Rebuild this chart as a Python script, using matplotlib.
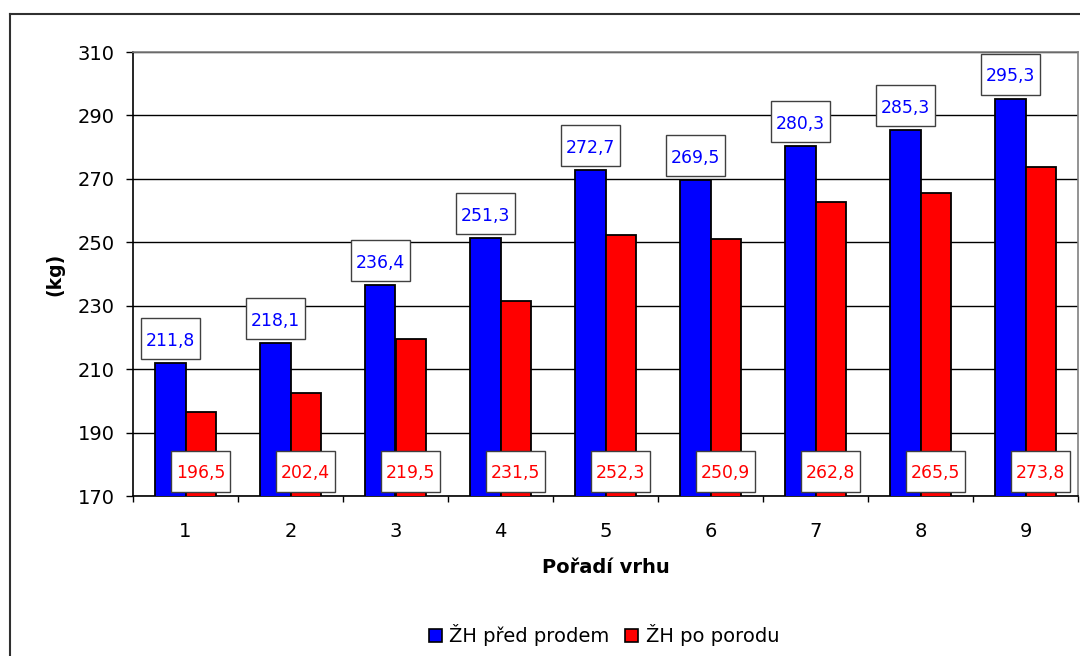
import matplotlib
matplotlib.use("Agg")
import matplotlib.pyplot as plt
from matplotlib.patches import Rectangle
from matplotlib.lines import Line2D
from matplotlib.transforms import Affine2D, ScaledTranslation, blended_transform_factory
import numpy as np

plt.rcParams['font.family'] = ['DejaVu Sans']

categories = ['1', '2', '3', '4', '5', '6', '7', '8', '9']
pred_prodem = [211.8, 218.1, 236.4, 251.3, 272.7, 269.5, 280.3, 285.3, 295.3]
po_porodu = [196.5, 202.4, 219.5, 231.5, 252.3, 250.9, 262.8, 265.5, 273.8]
series_names = ['ŽH před prodem', 'ŽH po porodu']
yticks = [170, 190, 210, 230, 250, 270, 290, 310]

BLUE = '#0000FF'
RED = '#FF0000'

W, H = 1080, 656
fig = plt.figure(figsize=(W / 100, H / 100), dpi=100)
fig.patch.set_facecolor('white')

ax = fig.add_axes([133 / W, 1 - 496 / H, (1078 - 133) / W, (496 - 52) / H])

x = np.arange(len(categories))
bw = 0.29
ax.bar(x - bw / 2, pred_prodem, bw, color=BLUE, edgecolor='black', linewidth=1.3, zorder=3,
       label=series_names[0])
ax.bar(x + bw / 2, po_porodu, bw, color=RED, edgecolor='black', linewidth=1.3, zorder=3,
       label=series_names[1])

ax.set_xlim(-0.5, len(categories) - 0.5)
ax.set_ylim(170, 310)
ax.set_yticks(yticks)
ax.set_yticklabels([str(v) for v in yticks], fontsize=14)
ax.set_xticks(x)
ax.set_xticklabels(categories, fontsize=14)
ax.set_xticks(np.arange(len(categories) + 1) - 0.5, minor=True)
ax.tick_params(axis='x', which='major', length=0, pad=19)
ax.tick_params(axis='x', which='minor', length=4, direction='out', width=1)
ax.tick_params(axis='y', length=5, width=1, pad=8)
ax.yaxis.grid(True, color='black', linewidth=1, zorder=0)
ax.set_axisbelow(True)
for s in ['top', 'right']:
    ax.spines[s].set_color('#808080')
    ax.spines[s].set_linewidth(1.2)
for s in ['left', 'bottom']:
    ax.spines[s].set_color('black')
    ax.spines[s].set_linewidth(1.2)

ax.set_xlabel('Pořadí vrhu', fontsize=14, fontweight='bold', labelpad=12)
ax.set_ylabel('(kg)', fontsize=13.5, fontweight='bold', labelpad=10)

px = fig.dpi / 100.0
box_w, box_h = 59 * px, 41 * px


def boxed_label(xv, yv, text, color, transform, dy_px):
    tr = (Affine2D().scale(box_w, box_h).translate(-box_w / 2, -box_h / 2 + dy_px)
          + ScaledTranslation(xv, yv, transform))
    ax.add_patch(Rectangle((0, 0), 1, 1, transform=tr, facecolor='white',
                           edgecolor='#404040', linewidth=1.0, zorder=5, clip_on=False))
    ttr = Affine2D().translate(0, dy_px) + ScaledTranslation(xv, yv, transform)
    ax.text(0, 0, text, transform=ttr, ha='center', va='center_baseline', color=color,
            fontsize=12.4, zorder=6, clip_on=False)


bt = blended_transform_factory(ax.transData, ax.transAxes)
for i in range(len(categories)):
    boxed_label(x[i] - bw / 2, pred_prodem[i], f'{pred_prodem[i]:.1f}'.replace('.', ','), BLUE,
                ax.transData, 24.5 * px)
    boxed_label(x[i] + bw / 2, 0.056, f'{po_porodu[i]:.1f}'.replace('.', ','), RED, bt, 0)

handles = [Rectangle((0, 0), 1, 1, facecolor=BLUE, edgecolor='black', linewidth=1.2),
           Rectangle((0, 0), 1, 1, facecolor=RED, edgecolor='black', linewidth=1.2)]
fig.legend(handles, series_names, loc='center', bbox_to_anchor=(604 / W, 1 - 635 / H), ncol=2,
           frameon=False, fontsize=14, handlelength=0.65, handleheight=0.65,
           handletextpad=0.4, columnspacing=0.8)

fig.add_artist(Line2D([10 / W, 1.0], [1 - 14 / H, 1 - 14 / H], transform=fig.transFigure,
                      color='#303030', linewidth=1.5))
fig.add_artist(Line2D([10 / W, 10 / W], [1 - 14 / H, 0.0], transform=fig.transFigure,
                      color='#303030', linewidth=1.5))

fig.savefig('out.png', dpi=100)
